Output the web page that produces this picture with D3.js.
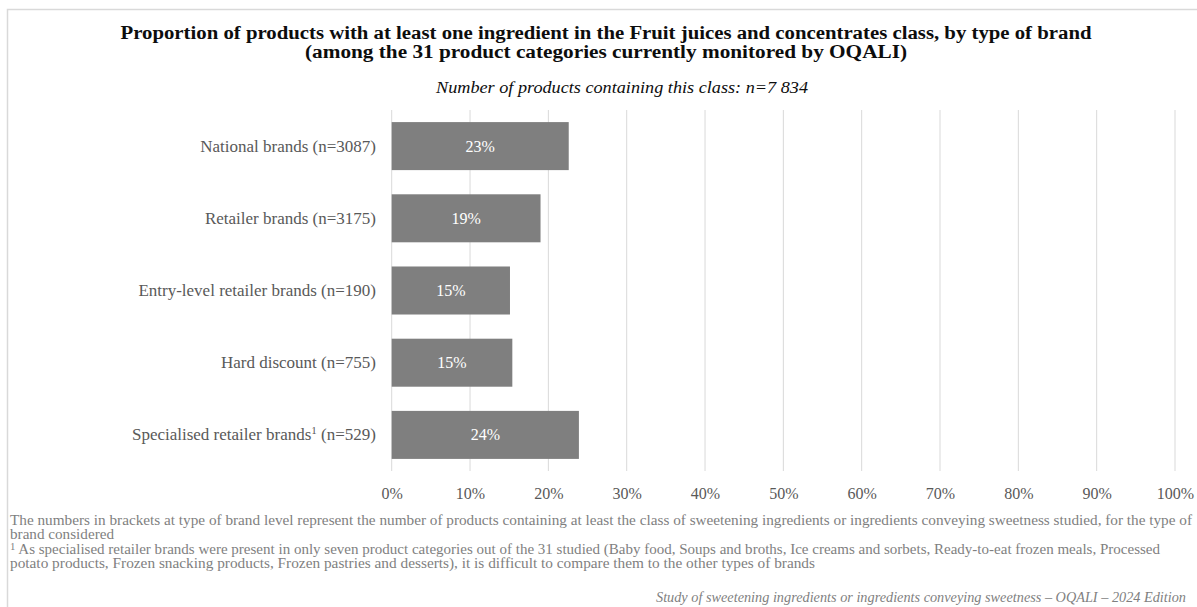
<!DOCTYPE html>
<html>
<head>
<meta charset="utf-8">
<script src="https://cdn.jsdelivr.net/npm/d3@7"></script>
<style>
  html, body { margin: 0; padding: 0; background: #fff; }
  svg { display: block; }
  text { font-family: "Liberation Serif", "DejaVu Serif", serif; }
</style>
</head>
<body>
<svg id="chart" width="1197" height="607"></svg>
<script>
// ---- data ----
const categories = [
  "National brands (n=3087)",
  "Retailer brands (n=3175)",
  "Entry-level retailer brands (n=190)",
  "Hard discount (n=755)",
  "Specialised retailer brands¹ (n=529)"
];
const values = [22.6, 19.0, 15.1, 15.4, 23.9];
const valueLabels = ["23%", "19%", "15%", "15%", "24%"];
const tickValues = [0, 10, 20, 30, 40, 50, 60, 70, 80, 90, 100];
const titleLines = [
  "Proportion of products with at least one ingredient in the Fruit juices and concentrates class, by type of brand",
  "(among the 31 product categories currently monitored by OQALI)"
];
const subtitle = "Number of products containing this class: n=7 834";
const footnotes = [
  "The numbers in brackets at type of brand level represent the number of products containing at least the class of sweetening ingredients or ingredients conveying sweetness studied, for the type of",
  "brand considered",
  "¹ As specialised retailer brands were present in only seven product categories out of the 31 studied (Baby food, Soups and broths, Ice creams and sorbets, Ready-to-eat frozen meals, Processed",
  "potato products, Frozen snacking products, Frozen pastries and desserts), it is difficult to compare them to the other types of brands"
];
const source = "Study of sweetening ingredients or ingredients conveying sweetness – OQALI – 2024 Edition";

// ---- layout ----
const svg = d3.select("#chart");
const plot = { left: 391.7, right: 1175, top: 110, bottom: 471 };

// frame
svg.append("rect")
  .attr("x", 7.5).attr("y", 9.5)
  .attr("width", 1197).attr("height", 607)
  .attr("fill", "#fff").attr("stroke", "#d9d9d9").attr("stroke-width", 1.5);

const x = d3.scaleLinear().domain([0, 100]).range([plot.left, plot.right]);
const y = d3.scaleBand().domain(categories).range([plot.top, plot.bottom]).paddingInner(0.335).paddingOuter(0.1675);

// gridlines
svg.append("g").selectAll("line").data(tickValues).join("line")
  .attr("x1", d => x(d)).attr("x2", d => x(d))
  .attr("y1", plot.top).attr("y2", plot.bottom)
  .attr("stroke", "#d9d9d9").attr("stroke-width", 1);

// x-axis tick labels
const xAxis = d3.axisBottom(x).tickValues(tickValues).tickFormat(d => d + "%").tickSize(0).tickPadding(0);
const gx = svg.append("g").attr("transform", `translate(0,${plot.bottom})`).call(xAxis);
gx.select(".domain").remove();
gx.selectAll("text")
  .attr("y", 27.5).attr("dy", 0)
  .attr("fill", "#595959")
  .style("font-family", '"Liberation Serif", serif')
  .style("font-size", "16px");

// bars
svg.append("g").selectAll("rect").data(categories).join("rect")
  .attr("x", x(0))
  .attr("y", d => y(d))
  .attr("width", (d, i) => x(values[i]) - x(0))
  .attr("height", y.bandwidth())
  .attr("fill", "#7f7f7f");

// value labels
svg.append("g").selectAll("text").data(categories).join("text")
  .attr("x", (d, i) => (x(0) + x(values[i])) / 2)
  .attr("y", d => y(d) + y.bandwidth() / 2 + 5.5)
  .attr("text-anchor", "middle")
  .attr("fill", "#ffffff")
  .style("font-size", "16px")
  .text((d, i) => valueLabels[i]);

// category labels
const yAxis = d3.axisLeft(y).tickSize(0).tickPadding(0);
const gy = svg.append("g").attr("transform", `translate(376,0)`).call(yAxis);
gy.select(".domain").remove();
gy.selectAll("text")
  .attr("fill", "#595959")
  .attr("dy", 5.5)
  .style("font-family", '"Liberation Serif", serif')
  .style("font-size", "17px")
  .each(function(d) {
    const t = d3.select(this);
    if (d.includes("¹")) {
      const parts = d.split("¹");
      t.text(null);
      t.append("tspan").text(parts[0]);
      t.append("tspan").attr("dy", -6).style("font-size", "11px").text("1");
      t.append("tspan").attr("dy", 6).text(parts[1]);
    }
  });

// title
const titleY = [38.5, 58];
const titleW = [971, 602];
svg.append("g").selectAll("text").data(titleLines).join("text")
  .attr("x", 606).attr("y", (d, i) => titleY[i])
  .attr("text-anchor", "middle")
  .attr("fill", "#0d0d0d")
  .attr("font-weight", "bold")
  .attr("textLength", (d, i) => titleW[i])
  .attr("lengthAdjust", "spacingAndGlyphs")
  .style("font-size", "18px")
  .text(d => d);

svg.append("text")
  .attr("x", 622).attr("y", 93)
  .attr("text-anchor", "middle")
  .attr("fill", "#0d0d0d")
  .attr("font-style", "italic")
  .attr("textLength", 372)
  .attr("lengthAdjust", "spacingAndGlyphs")
  .style("font-size", "17.5px")
  .text(subtitle);

// footnotes
const footY = [524.5, 539, 553.5, 568];
const footW = [1182, 104, 1150, 805];
svg.append("g").selectAll("text").data(footnotes).join("text")
  .attr("x", 10).attr("y", (d, i) => footY[i])
  .attr("fill", "#7f7f7f")
  .style("font-size", "14px")
  .each(function(d, i) {
    const t = d3.select(this);
    t.attr("textLength", footW[i]).attr("lengthAdjust", "spacingAndGlyphs");
    if (d.startsWith("¹")) {
      t.append("tspan").attr("dy", -4).style("font-size", "10px").text("1");
      t.append("tspan").attr("dy", 4).text(d.slice(1));
    } else {
      t.text(d);
    }
  });

svg.append("text")
  .attr("x", 1186).attr("y", 601.5)
  .attr("text-anchor", "end")
  .attr("fill", "#7f7f7f")
  .attr("font-style", "italic")
  .attr("textLength", 530)
  .attr("lengthAdjust", "spacingAndGlyphs")
  .style("font-size", "14px")
  .text(source);
</script>
</body>
</html>
